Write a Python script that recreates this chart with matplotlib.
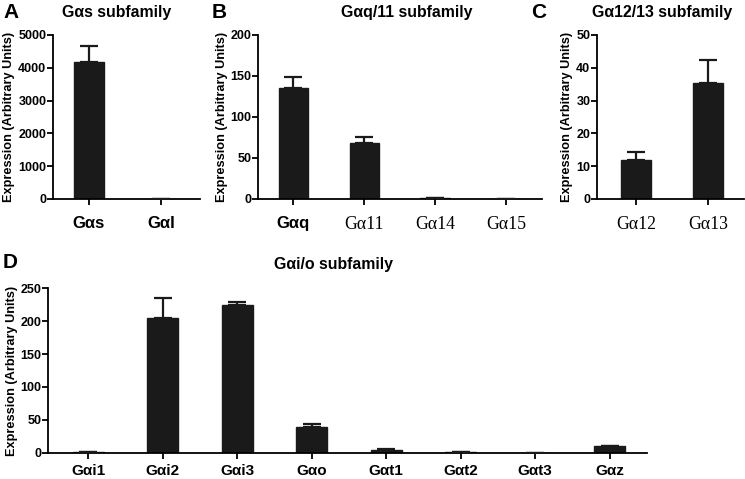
import numpy as np
import matplotlib.pyplot as plt

plt.rcParams['font.family'] = ['Liberation Sans', 'DejaVu Sans']

BAR_COLOR = '#1a1a1a'

# panel A
gs_names = ['G\u03b1s', 'G\u03b1I']
gs_vals = [4180, 0]
gs_err = [480, 0]

# panel B
gq_names = ['G\u03b1q', 'G\u03b111', 'G\u03b114', 'G\u03b115']
gq_vals = [135, 68.5, 1.0, 0]
gq_err = [14, 7, 0, 0]

# panel C
g12_names = ['G\u03b112', 'G\u03b113']
g12_vals = [11.8, 35.5]
g12_err = [2.4, 6.8]

# panel D
gi_names = ['G\u03b1i1', 'G\u03b1i2', 'G\u03b1i3', 'G\u03b1o',
            'G\u03b1t1', 'G\u03b1t2', 'G\u03b1t3', 'G\u03b1z']
gi_vals = [1.0, 205, 224.5, 38.5, 4.0, 1.2, 0, 9.5]
gi_err = [0, 31, 4, 5, 1.2, 0, 0, 0.8]

serif_labels = {'G\u03b111', 'G\u03b114', 'G\u03b115', 'G\u03b112', 'G\u03b113'}


def draw_panel(ax, names, vals, errs, ymax, ystep, xlim, xsize=12, xpad=5):
    x = np.arange(len(names))
    ax.bar(x, vals, width=0.42, color=BAR_COLOR, edgecolor=BAR_COLOR, zorder=2)
    lower = np.zeros(len(errs))
    ax.errorbar(x, vals, yerr=[lower, errs], fmt='none', ecolor=BAR_COLOR,
                elinewidth=1.6, capsize=6.5, capthick=1.6, zorder=3)
    ax.set_xlim(*xlim)
    ax.set_ylim(0, ymax)
    ax.set_yticks(np.arange(0, ymax + ystep / 2, ystep))
    ax.set_xticks(x)
    ax.set_xticklabels(names)
    for lab in ax.get_xticklabels():
        if lab.get_text() in serif_labels:
            lab.set_fontfamily('Liberation Serif')
            lab.set_fontsize(xsize + 0.8)
        else:
            lab.set_fontweight('bold')
            lab.set_fontsize(xsize)
    for lab in ax.get_yticklabels():
        lab.set_fontweight('bold')
        lab.set_fontsize(9)
    ax.spines['top'].set_visible(False)
    ax.spines['right'].set_visible(False)
    ax.spines['left'].set_linewidth(1.3)
    ax.spines['bottom'].set_linewidth(1.3)
    ax.tick_params(axis='both', width=1.3, length=4, direction='out')
    ax.tick_params(axis='x', pad=xpad)
    ax.tick_params(axis='y', pad=0.8)
    ax.set_ylabel('Expression (Arbitrary Units)', fontsize=9.2, fontweight='bold', labelpad=2)


fig = plt.figure(figsize=(7.45, 4.79), dpi=100)

ax_a = fig.add_axes([0.0711, 0.5846, 0.197, 0.3424])
ax_b = fig.add_axes([0.3463, 0.5846, 0.381, 0.3424])
ax_c = fig.add_axes([0.8013, 0.5846, 0.197, 0.3424])
ax_d = fig.add_axes([0.0644, 0.0549, 0.804, 0.3432])

draw_panel(ax_a, gs_names, gs_vals, gs_err, 5000, 1000, (-0.5, 1.54), xpad=8)
draw_panel(ax_b, gq_names, gq_vals, gq_err, 200, 50, (-0.5, 3.5), xpad=8)
draw_panel(ax_c, g12_names, g12_vals, g12_err, 50, 10, (-0.54, 1.5), xpad=8)
draw_panel(ax_d, gi_names, gi_vals, gi_err, 250, 50, (-0.54, 7.5), xsize=11, xpad=4)

fig.text(117 / 745, 1 - 13 / 479, 'G\u03b1s subfamily', ha='center', va='center', fontsize=11.4, fontweight='bold')
fig.text(407 / 745, 1 - 13 / 479, 'G\u03b1q/11 subfamily', ha='center', va='center', fontsize=11.4, fontweight='bold')
fig.text(662 / 745, 1 - 13 / 479, 'G\u03b112/13 subfamily', ha='center', va='center', fontsize=11.4, fontweight='bold')
fig.text(333 / 745, 1 - 265 / 479, 'G\u03b1i/o subfamily', ha='center', va='center', fontsize=11.4, fontweight='bold')

for letter, px, py in [('A', 3, 12), ('B', 212, 12), ('C', 531, 12), ('D', 3, 263)]:
    fig.text(px / 745, 1 - py / 479, letter, ha='left', va='center', fontsize=15, fontweight='bold')

fig.savefig('out.png', dpi=100)
